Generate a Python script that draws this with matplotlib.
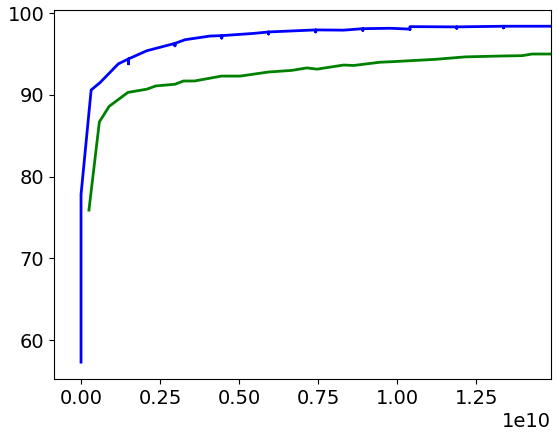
#!/usr/bin/env python3
import matplotlib
matplotlib.use("Agg")
import matplotlib.pyplot as plt

# training (blue) curve, x in units of 1e10 steps; repeated x gives the small dips
blue_x = [0.0, 0.0, 0.0, 0.032, 0.06, 0.118, 0.15, 0.15, 0.15, 0.208,
          0.297, 0.297, 0.297, 0.329, 0.408, 0.445, 0.445, 0.445, 0.545,
          0.593, 0.593, 0.593, 0.742, 0.742, 0.742, 0.83, 0.891, 0.891, 0.891,
          0.978, 1.04, 1.04, 1.04, 1.188, 1.188, 1.188, 1.336, 1.336, 1.336, 1.49]
blue_y = [57.3, 69.3, 77.8, 90.6, 91.5, 93.8, 94.4, 93.8, 94.4, 95.4,
          96.3, 96.0, 96.3, 96.75, 97.2, 97.25, 96.95, 97.25, 97.52,
          97.7, 97.45, 97.7, 97.95, 97.7, 97.95, 97.92, 98.1, 97.9, 98.1,
          98.15, 98.05, 98.0, 98.35, 98.32, 98.15, 98.32, 98.4, 98.2, 98.4, 98.4]

# validation (green) curve
green_x = [0.025, 0.058, 0.089, 0.148, 0.208, 0.237, 0.297, 0.324, 0.359,
           0.444, 0.503, 0.593, 0.667, 0.714, 0.746, 0.83, 0.862, 0.946,
           0.978, 1.12, 1.215, 1.32, 1.395, 1.426, 1.49]
green_y = [75.9, 86.7, 88.6, 90.3, 90.7, 91.1, 91.3, 91.7, 91.7,
           92.3, 92.3, 92.8, 93.0, 93.3, 93.15, 93.65, 93.6, 94.0,
           94.05, 94.35, 94.65, 94.75, 94.8, 95.0, 95.0]

fig = plt.figure(figsize=(5.58, 4.38), dpi=100)
ax = fig.add_axes([0.0968, 0.134, 0.8907, 0.8425])

ax.plot([v * 1e10 for v in blue_x], blue_y, color='b', linewidth=2)
ax.plot([v * 1e10 for v in green_x], green_y, color='g', linewidth=2)

ax.set_xlim(-0.0854e10, 1.486e10)
ax.set_ylim(55.2, 100.35)
ax.set_xticks([0, 0.25e10, 0.5e10, 0.75e10, 1.0e10, 1.25e10])
ax.set_yticks([60, 70, 80, 90, 100])
ax.tick_params(labelsize=14)
ax.xaxis.get_offset_text().set_fontsize(14)

fig.savefig("out.png", dpi=100)
